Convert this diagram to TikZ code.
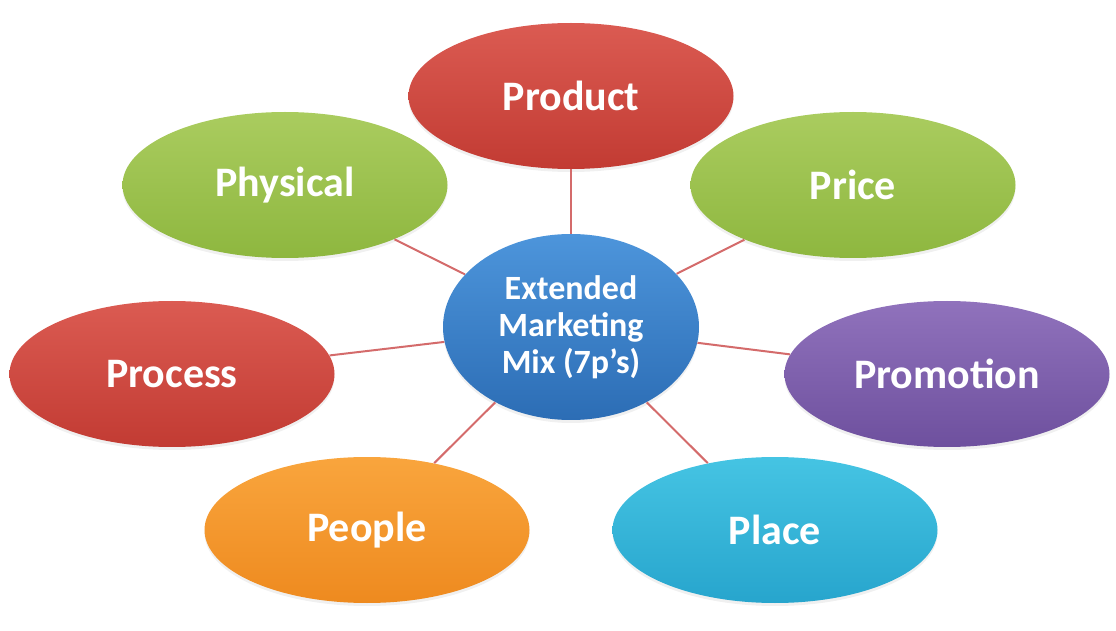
\documentclass[tikz,border=0pt]{standalone}
\usepackage{fontspec}
\setmainfont{Carlito}
\usepackage{tikz}
\usetikzlibrary{shapes.geometric,shadows}
\definecolor{redtop}{HTML}{DB5B52}
\definecolor{redbot}{HTML}{C23B33}
\definecolor{greentop}{HTML}{AACC5F}
\definecolor{greenbot}{HTML}{8EB73F}
\definecolor{bluetop}{HTML}{4D95DB}
\definecolor{bluebot}{HTML}{2C6DB5}
\definecolor{purpletop}{HTML}{9072BC}
\definecolor{purplebot}{HTML}{6E509E}
\definecolor{orangetop}{HTML}{F9A53D}
\definecolor{orangebot}{HTML}{EE8A1F}
\definecolor{cyantop}{HTML}{45C4E3}
\definecolor{cyanbot}{HTML}{27A5CD}
\definecolor{spokered}{HTML}{D46B6B}

\begin{document}
\begin{tikzpicture}[
          x=0.5pt, y=-0.5pt,
          petal/.style={ellipse, inner sep=0pt, minimum width=162.5pt, minimum height=73pt,
                        text=white, font=\fontsize{21}{24}\selectfont\bfseries,
                        drop shadow={opacity=0.12, shadow xshift=0pt, shadow yshift=-1.5pt}},
          hub/.style={ellipse, inner sep=0pt, minimum width=128pt, minimum height=93pt,
                      text=white, align=center, font=\fontsize{17}{18.5}\selectfont\bfseries,
                      top color=bluetop, bottom color=bluebot,
                      drop shadow={opacity=0.12, shadow xshift=0pt, shadow yshift=-1.5pt}},
          spoke/.style={draw=spokered, line width=1pt}
        ]
        \useasboundingbox (0,0) rectangle (1116,631);
        % the seven p's
        \node[petal, top color=redtop, bottom color=redbot] (product) at (571,96) {Product};
        \node[petal, top color=greentop, bottom color=greenbot] (physical) at (285,185) {Physical};
        \node[petal, top color=greentop, bottom color=greenbot] (price) at (853,185) {Price};
        \node[petal, top color=redtop, bottom color=redbot] (process) at (172,374) {Process};
        \node[petal, top color=purpletop, bottom color=purplebot] (promotion) at (947,374) {Promotion};
        \node[petal, top color=orangetop, bottom color=orangebot] (people) at (367,530) {People};
        \node[petal, top color=cyantop, bottom color=cyanbot] (place) at (775,530) {Place};
        % centre
        \node[hub] (mix) at (571,327) {Extended\\Marketing\\Mix (7p’s)};
        \foreach \p in {product,physical,price,process,promotion,people,place}
          \draw[spoke] (mix) -- (\p);
      \end{tikzpicture}
\end{document}
